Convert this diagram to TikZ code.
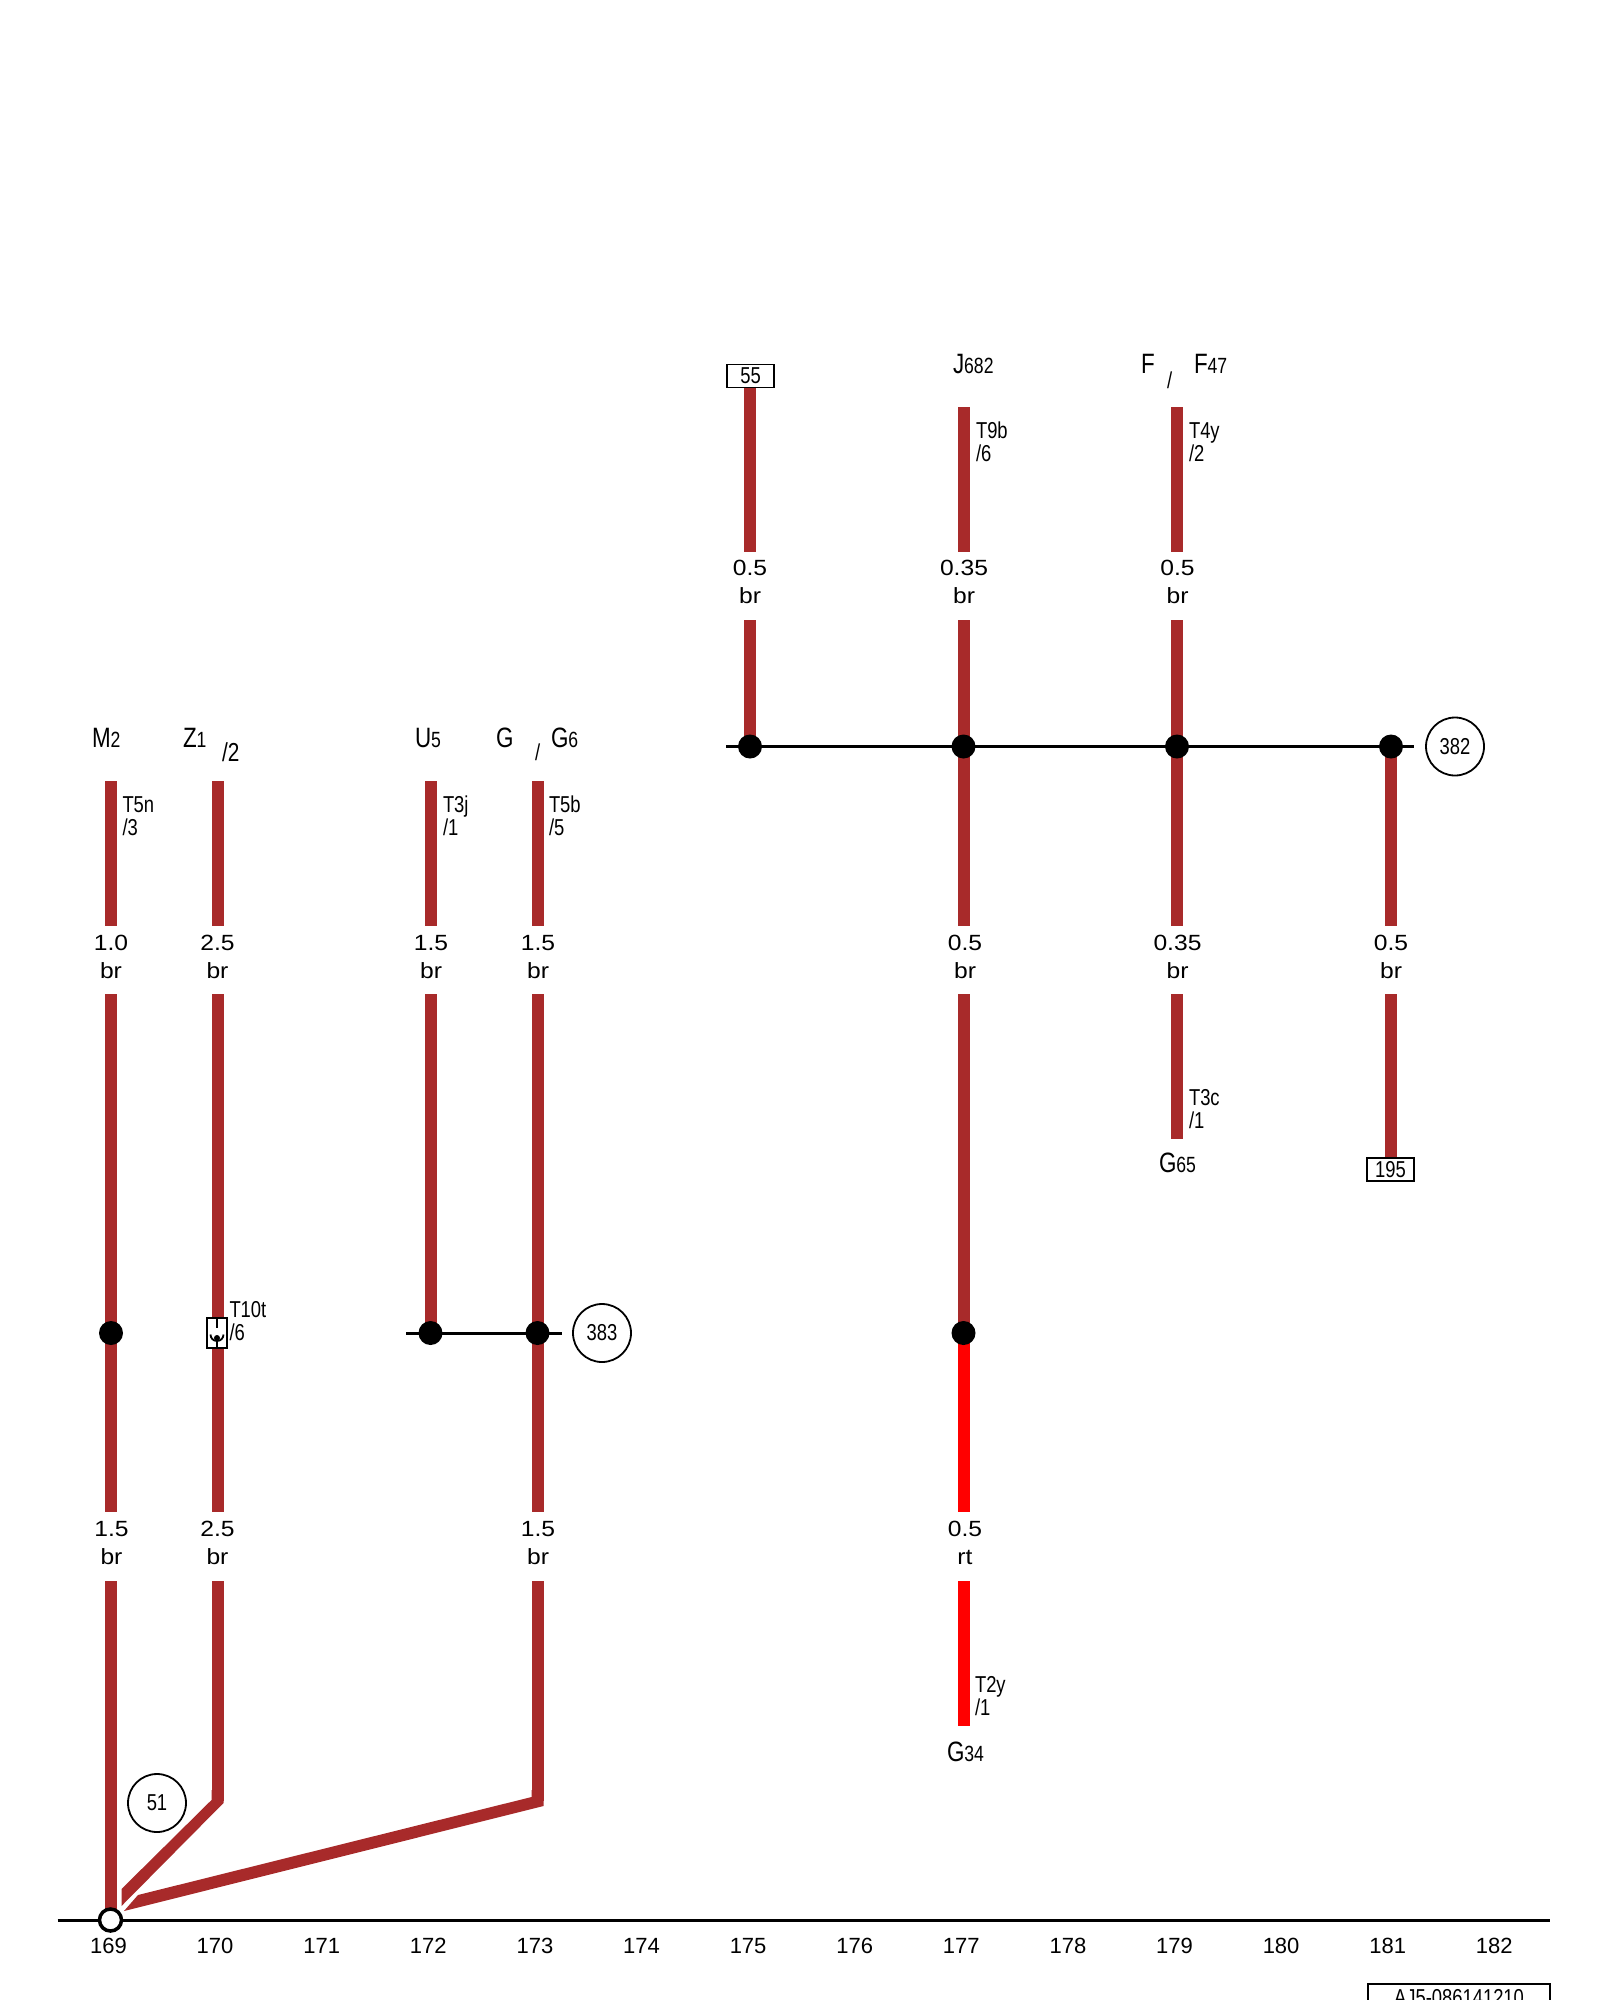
\documentclass[tikz,border=0pt]{standalone}
\usepackage{fontspec}
\setmainfont{Liberation Sans}
\newfontfamily\narrowfont[FakeStretch=0.8]{Liberation Sans}
\newfontfamily\widefont[FakeStretch=1.12]{Liberation Sans}
\definecolor{wirebrown}{RGB}{168,42,42}
\newcommand{\compname}[2]{{\fontsize{28}{28}\selectfont #1}{\fontsize{22}{22}\selectfont #2}}
\tikzset{%
  inner sep=0pt,%
  outer sep=0pt,%
  wire/.style={line width=12pt,wirebrown},
  red wire/.style={line width=12pt,red},
  bus/.style={line width=3pt,black},
  mark junction/.style={fill=black,circle,minimum size=24pt},
  mark open/.style={draw=black,line width=3.5pt,fill=white,circle,minimum size=22pt},
  ref circle/.style={draw,line width=1.8pt,circle,minimum size=58pt,
    font=\narrowfont\fontsize{23}{23}\selectfont},
  ref box/.style={draw,line width=1.8pt,minimum width=47pt,minimum height=23pt,
    font=\narrowfont\fontsize{23}{23}\selectfont},
  size label/.style={anchor=base,font=\widefont\fontsize{22}{22}\selectfont},
  pin label/.style={anchor=base west,font=\narrowfont\fontsize{23}{23}\selectfont},
  part label/.style={anchor=base west,font=\narrowfont},
  axis label/.style={font=\fontsize{22}{22}\selectfont}
}

\begin{document}
\begin{tikzpicture}[x=1pt,y=-1pt]

\clip (0,0) rectangle (1600,2000);

% wire segments
\foreach \name/\xw/\ya/\yb in {%
  a/750/388/552, b/963.5/407/552, c/1177/407/552,
  d/750/620/746, e/963.5/620/746, f/1177/620/746,
  g/963.5/746/926, h/1177/746/926, i/1391/746/926,
  j/963.5/994/1333, k/1177/994/1139, l/1391/994/1158,
  m/111/781/926, n/217.5/781/926, o/430.5/781/926, p/537.5/781/926,
  q/111/994/1512, r/217.5/994/1512, s/430.5/994/1333, t/537.5/994/1512,
  u/111/1581/1920, v/217.5/1581/1801, w/537.5/1581/1801}
{
  \coordinate (\name1) at (\xw,\ya);
  \coordinate (\name2) at (\xw,\yb);
  \draw[wire] (\name1) -- (\name2);
}
\coordinate (redA) at (963.5,1333);
\coordinate (redB) at (963.5,1512);
\coordinate (redC) at (963.5,1581);
\coordinate (redD) at (963.5,1726);
\draw[red wire] (redA) -- (redB);
\draw[red wire] (redC) -- (redD);

% the two slanted ends
\fill[wirebrown] (211.5,1800) -- (121.5,1889) -- (121.5,1906) -- (223.5,1803) -- (223.5,1790) -- (211.5,1790) -- cycle;
\fill[wirebrown] (531.5,1797) -- (138,1895) -- (124,1911) -- (543.5,1806) -- (543.5,1790) -- (531.5,1790) -- cycle;

% size and colour labels
\foreach \xw/\ya/\sz/\col in {%
  750/575/0.5/br, 964/575/0.35/br, 1177.5/575/0.5/br,
  111/950/1.0/br, 217.5/950/2.5/br, 431/950/1.5/br, 538/950/1.5/br,
  965/950/0.5/br, 1177.5/950/0.35/br, 1391/950/0.5/br,
  111.5/1536/1.5/br, 217.5/1536/2.5/br, 538/1536/1.5/br, 965/1536/0.5/rt}
{
  \node[size label] at (\xw,\ya) {\sz};
  \node[size label] at (\xw,\ya+28) {\col};
}

% pin labels
\foreach \xw/\yt/\pin/\sub in {%
  976/438/T9b/6, 1189/438/T4y/2,
  122.5/812/T5n/3, 443/812/T3j/1, 549/812/T5b/5,
  1189/1105/T3c/1, 975/1692/T2y/1, 229.5/1317/T10t/6}
{
  \node[pin label] at (\xw,\yt) {\pin};
  \node[pin label] at (\xw,\yt+23) {/\sub};
}

% part names
\node[part label] (M2) at (92,747) {\compname{M}{2}};
\node[part label] (Z1) at (183,747) {\compname{Z}{1}};
\node[pin label,font=\narrowfont\fontsize{26}{26}\selectfont] (Z1pin) at (222,761) {/2};
\node[part label] (U5) at (415,747) {\compname{U}{5}};
\node[part label] (G) at (496,747) {\compname{G}{}};
\node[pin label] (Gsep) at (535,760) {/};
\node[part label] (G6) at (551,747) {\compname{G}{6}};
\node[part label] (J682) at (953,373) {\compname{J}{682}};
\node[part label] (F) at (1141,373) {\compname{F}{}};
\node[pin label] (Fsep) at (1167,388) {/};
\node[part label] (F47) at (1194,373) {\compname{F}{47}};
\node[part label] (G65) at (1159,1172) {\compname{G}{65}};
\node[part label] (G34) at (947,1761) {\compname{G}{34}};

% buses and junctions
\coordinate (busAa) at (726,746.5);
\coordinate (busAb) at (1414,746.5);
\coordinate (busBa) at (406,1333);
\coordinate (busBb) at (561.5,1333);
\draw[bus] (busAa) -- (busAb);
\draw[bus] (busBa) -- (busBb);
\foreach \name/\xw/\yw in {%
  A/750/746.5, B/963.5/746.5, C/1177/746.5, D/1391/746.5,
  E/111/1333, F/430.5/1333, H/537.5/1333, I/963.5/1333}
{
  \node[mark junction] (J\name) at (\xw,\yw) {};
}

% references
\node[ref circle] (c382) at (1455,746.5) {382};
\node[ref circle] (c383) at (602,1333) {383};
\node[ref circle] (c51) at (157,1803) {51};
\node[ref box] (b55) at (750.5,376) {55};
\node[ref box] (b195) at (1390.5,1169.5) {195};

% connector on the 170 wire
\node[draw,line width=1.8pt,fill=white,minimum width=20pt,minimum height=30pt] (conn) at (217,1333) {};
\draw[line width=1.6pt] (conn.north) -- (217,1328);
\draw[line width=1.8pt] (210.5,1334.5) arc[start angle=180,end angle=0,radius=6.5];
\draw[line width=2.6pt] (217,1338) -- (conn.south);
\fill (217,1338) circle (3);

% ground rail
\coordinate (railA) at (57.5,1920);
\coordinate (railB) at (1550,1920);
\draw[bus] (railA) -- (railB);
\node[mark open] (gnd) at (110.5,1920) {};
\foreach \num [count=\i from 0] in {169,...,182}
{
  \node[axis label] at (108.5+106.6*\i,1946) {\num};
}

% drawing number
\node[draw,line width=1.8pt,anchor=north west,minimum width=182pt,minimum height=40pt] (docno) at (1368,1984) {};
\node[pin label,anchor=base] (doctext) at (1459,2005) {AJ5-086141210};

\end{tikzpicture}
\end{document}
